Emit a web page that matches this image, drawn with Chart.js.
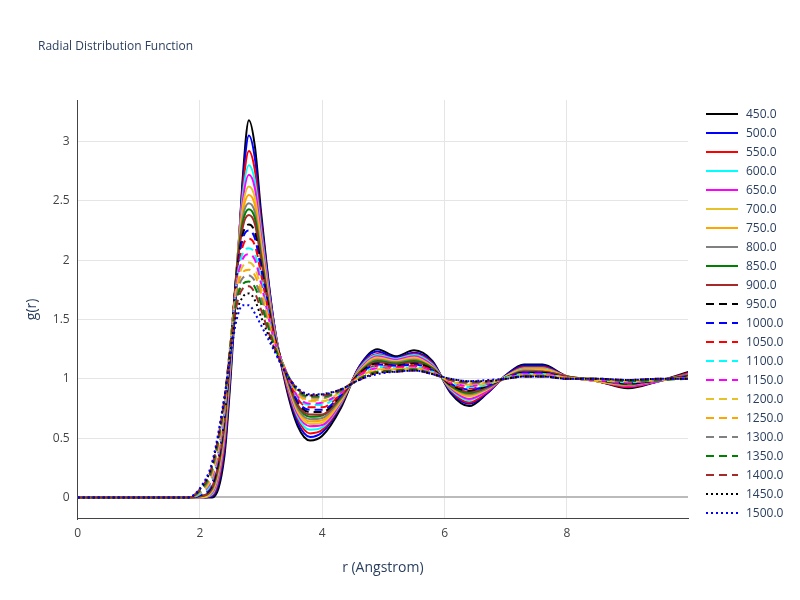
<!DOCTYPE html>
<html><head><meta charset="utf-8">
<script src="https://cdn.jsdelivr.net/npm/chart.js@4/dist/chart.umd.min.js"></script>
<style>body{margin:0;background:#fff;font-family:'Open Sans',sans-serif}#w{position:relative;width:800px;height:600px}
#t{position:absolute;left:38px;top:37px;font-size:12px;color:#2a3f5f}
#lg{position:absolute;left:704px;top:104px;font-size:12px;color:#2a3f5f}
.it{height:19px;display:flex;align-items:center}.it svg{margin-right:6px}</style>
</head><body><div id="w"><canvas id="c"></canvas><div id="t">Radial Distribution Function</div><div id="lg"></div></div>
<script>
const rVals=[0,1.8,2.0,2.2,2.4,2.5,2.6,2.7,2.8,2.9,3.0,3.2,3.4,3.6,3.8,4.0,4.3,4.6,4.9,5.2,5.5,5.8,6.1,6.4,6.7,7.0,7.3,7.6,8.0,8.5,9.0,9.5,10];
const temps=["450.0","500.0","550.0","600.0","650.0","700.0","750.0","800.0","850.0","900.0","950.0","1000.0","1050.0","1100.0","1150.0","1200.0","1250.0","1300.0","1350.0","1400.0","1450.0","1500.0"];
const g450=[0,0,0,0,0.35,1.0,1.8,2.7,3.18,2.95,2.4,1.5,0.95,0.6,0.48,0.52,0.75,1.1,1.25,1.19,1.24,1.15,0.88,0.77,0.88,1.03,1.12,1.12,1.02,0.98,0.92,0.98,1.06];
const g500=[0,0,0,0.01,0.4,1.05,1.85,2.65,3.05,2.85,2.35,1.5,0.97,0.63,0.51,0.55,0.77,1.1,1.23,1.18,1.22,1.14,0.89,0.79,0.88,1.03,1.11,1.11,1.02,0.98,0.93,0.98,1.05];
const g550=[0,0,0,0.02,0.45,1.1,1.9,2.6,2.92,2.75,2.3,1.48,0.98,0.66,0.54,0.57,0.78,1.09,1.21,1.17,1.21,1.13,0.9,0.8,0.89,1.02,1.1,1.1,1.02,0.98,0.93,0.98,1.05];
const g600=[0,0,0,0.03,0.5,1.12,1.92,2.55,2.8,2.66,2.25,1.47,1.0,0.68,0.57,0.59,0.79,1.08,1.2,1.17,1.2,1.12,0.91,0.82,0.9,1.02,1.09,1.09,1.02,0.98,0.94,0.98,1.04];
const g650=[0,0,0,0.04,0.52,1.15,1.93,2.5,2.72,2.6,2.2,1.46,1.01,0.7,0.6,0.61,0.8,1.07,1.19,1.16,1.19,1.11,0.92,0.83,0.9,1.02,1.08,1.08,1.02,0.98,0.94,0.98,1.04];
const g700=[0,0,0,0.05,0.55,1.18,1.93,2.45,2.62,2.52,2.15,1.44,1.02,0.72,0.62,0.63,0.81,1.06,1.18,1.15,1.18,1.1,0.93,0.85,0.91,1.02,1.08,1.08,1.02,0.98,0.95,0.99,1.03];
const g750=[0,0,0.01,0.06,0.58,1.2,1.93,2.4,2.55,2.46,2.1,1.43,1.03,0.74,0.64,0.65,0.82,1.06,1.17,1.14,1.17,1.1,0.93,0.86,0.92,1.01,1.07,1.07,1.02,0.98,0.95,0.99,1.03];
const g800=[0,0,0.01,0.07,0.6,1.22,1.92,2.36,2.48,2.4,2.06,1.42,1.04,0.75,0.66,0.67,0.83,1.05,1.16,1.14,1.16,1.09,0.94,0.87,0.92,1.01,1.07,1.06,1.02,0.99,0.95,0.99,1.03];
const g850=[0,0,0.01,0.08,0.62,1.24,1.92,2.32,2.43,2.35,2.03,1.41,1.05,0.77,0.68,0.69,0.84,1.05,1.15,1.13,1.15,1.09,0.94,0.88,0.93,1.01,1.06,1.06,1.02,0.99,0.96,0.99,1.03];
const g900=[0,0,0.01,0.09,0.64,1.26,1.9,2.28,2.38,2.3,2.0,1.4,1.05,0.78,0.7,0.7,0.85,1.04,1.14,1.12,1.14,1.08,0.95,0.89,0.93,1.01,1.06,1.06,1.02,0.99,0.96,0.99,1.02];
const g950=[0,0,0.02,0.1,0.66,1.27,1.89,2.22,2.3,2.23,1.96,1.39,1.06,0.8,0.72,0.72,0.86,1.04,1.13,1.11,1.13,1.08,0.95,0.9,0.94,1.01,1.05,1.05,1.01,0.99,0.96,0.99,1.02];
const g1000=[0,0,0.02,0.12,0.68,1.28,1.87,2.18,2.25,2.18,1.92,1.38,1.06,0.81,0.74,0.74,0.86,1.03,1.12,1.11,1.12,1.07,0.96,0.91,0.94,1.01,1.05,1.05,1.01,0.99,0.97,0.99,1.02];
const g1050=[0,0,0.03,0.13,0.7,1.3,1.85,2.12,2.18,2.12,1.88,1.37,1.07,0.83,0.76,0.76,0.87,1.03,1.11,1.1,1.11,1.07,0.96,0.92,0.95,1.01,1.04,1.04,1.01,0.99,0.97,0.99,1.02];
const g1100=[0,0,0.03,0.15,0.72,1.31,1.82,2.06,2.1,2.05,1.84,1.36,1.07,0.84,0.78,0.78,0.88,1.02,1.1,1.09,1.1,1.06,0.97,0.93,0.95,1.01,1.04,1.04,1.01,0.99,0.97,0.99,1.01];
const g1150=[0,0,0.04,0.17,0.74,1.32,1.8,2.01,2.05,2.0,1.8,1.35,1.07,0.85,0.79,0.8,0.88,1.02,1.09,1.09,1.1,1.06,0.97,0.94,0.96,1.0,1.04,1.04,1.01,0.99,0.97,0.99,1.01];
const g1200=[0,0,0.04,0.19,0.76,1.32,1.77,1.95,1.98,1.93,1.76,1.34,1.07,0.87,0.81,0.81,0.89,1.01,1.08,1.08,1.09,1.05,0.98,0.95,0.96,1.0,1.03,1.03,1.01,0.99,0.98,0.99,1.01];
const g1250=[0,0,0.05,0.21,0.78,1.32,1.74,1.9,1.92,1.87,1.72,1.33,1.07,0.88,0.82,0.83,0.9,1.01,1.07,1.08,1.09,1.05,0.98,0.96,0.97,1.0,1.03,1.03,1.01,1.0,0.98,0.99,1.01];
const g1300=[0,0,0.05,0.23,0.8,1.31,1.7,1.85,1.87,1.82,1.68,1.31,1.07,0.89,0.84,0.84,0.9,1.0,1.06,1.07,1.08,1.05,0.99,0.96,0.97,1.0,1.03,1.03,1.0,1.0,0.98,0.99,1.01];
const g1350=[0,0,0.06,0.25,0.81,1.29,1.66,1.8,1.82,1.77,1.63,1.3,1.06,0.9,0.85,0.85,0.9,1.0,1.06,1.07,1.08,1.04,0.99,0.97,0.98,1.0,1.02,1.02,1.0,1.0,0.98,0.99,1.0];
const g1400=[0,0,0.07,0.27,0.83,1.27,1.62,1.76,1.78,1.72,1.58,1.28,1.06,0.91,0.86,0.86,0.91,0.99,1.05,1.06,1.07,1.04,0.99,0.97,0.98,1.0,1.02,1.02,1.0,1.0,0.99,1.0,1.0];
const g1450=[0,0,0.07,0.28,0.84,1.24,1.56,1.69,1.72,1.66,1.52,1.27,1.05,0.91,0.86,0.87,0.91,0.99,1.05,1.06,1.07,1.04,1.0,0.98,0.98,1.0,1.02,1.02,1.0,1.0,0.99,1.0,1.0];
const g1500=[0,0,0.08,0.3,0.85,1.2,1.5,1.62,1.62,1.55,1.45,1.25,1.05,0.92,0.87,0.87,0.91,0.99,1.04,1.06,1.07,1.04,1.0,0.98,0.99,1.0,1.02,1.02,1.0,1.0,0.99,1.0,1.0];
const series=[g450,g500,g550,g600,g650,g700,g750,g800,g850,g900,g950,g1000,g1050,g1100,g1150,g1200,g1250,g1300,g1350,g1400,g1450,g1500];
const palette=["#000000","#0000ff","#ff0000","#00ffff","#ff00ff","#e6c229","#ffa500","#808080","#008000","#a52a2a"];
const xTicks=[0,2,4,6,8];
const yTicks=[0,0.5,1,1.5,2,2.5,3];

function style(i){
  if(i<10) return {color:palette[i],dash:[]};
  if(i<20) return {color:palette[i-10],dash:[8,5]};
  return {color:palette[i-20],dash:[2,3]};
}
const datasets=series.map((s,i)=>{
  const st=style(i);
  return {label:temps[i],data:s.map((v,k)=>({x:rVals[k],y:v})),borderColor:st.color,backgroundColor:st.color,
    borderDash:st.dash,borderWidth:2,pointRadius:0,cubicInterpolationMode:'monotone',fill:false};
});
const lg=document.getElementById('lg');
temps.forEach((t,i)=>{
  const st=style(i);
  const d=document.createElement('div');d.className='it';
  d.innerHTML='<svg width="36" height="4"><line x1="2" y1="2" x2="34" y2="2" stroke="'+st.color+'" stroke-width="2" stroke-dasharray="'+(st.dash.length?st.dash.join(','):'none')+'"/></svg><span>'+t+'</span>';
  lg.appendChild(d);
});
datasets.reverse();
new Chart(document.getElementById('c'),{
  type:'line',
  data:{datasets},
  options:{
    responsive:true,maintainAspectRatio:false,animation:false,
    layout:{padding:{left:20,right:112,top:100,bottom:20}},
    plugins:{legend:{display:false},tooltip:{enabled:false}},
    scales:{
      x:{type:'linear',min:0,max:9.98,
        afterBuildTicks(a){a.ticks=xTicks.map(v=>({value:v}));},
        grid:{color:'#e5e5e5',drawTicks:false},border:{color:'#444'},
        ticks:{color:'#444',font:{family:'Open Sans',size:12},padding:8},
        title:{display:true,text:'r (Angstrom)',color:'#2a3f5f',font:{family:'Open Sans',size:14},padding:{top:10}}},
      y:{type:'linear',min:-0.18,max:3.35,
        afterBuildTicks(a){a.ticks=yTicks.map(v=>({value:v}));},
        grid:{color:c=>c.tick&&c.tick.value===0?'#bbbbbb':'#e5e5e5',lineWidth:c=>c.tick&&c.tick.value===0?2:1,drawTicks:false},
        border:{color:'#444'},
        ticks:{color:'#444',font:{family:'Open Sans',size:12},padding:8,callback:v=>String(v)},
        title:{display:true,text:'g(r)',color:'#2a3f5f',font:{family:'Open Sans',size:14}}}
    }
  }
});
</script></body></html>
